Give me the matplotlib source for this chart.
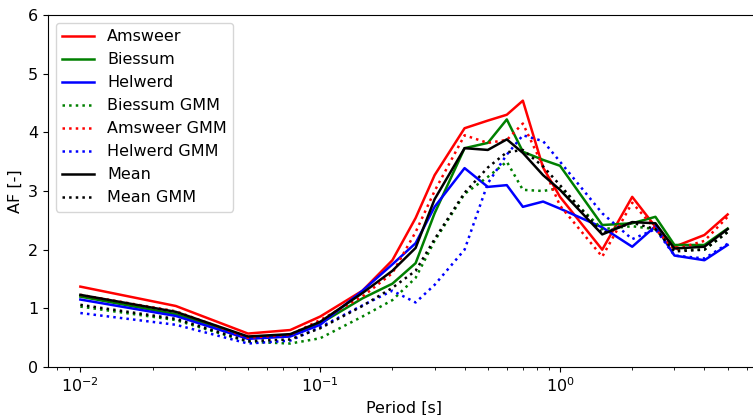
import numpy as np
import matplotlib
matplotlib.use('Agg')
import matplotlib.pyplot as plt

# Periodos espectrales [s]
periods = [0.01, 0.025, 0.05, 0.075, 0.1, 0.15, 0.2, 0.25, 0.3, 0.4, 0.5,
           0.6, 0.7, 0.85, 1.0, 1.5, 2.0, 2.5, 3.0, 4.0, 5.0]

# Factores de amplificacion medidos
amsweer = [1.37, 1.04, 0.57, 0.63, 0.86, 1.30, 1.82, 2.54, 3.27, 4.07, 4.20,
           4.30, 4.54, 3.40, 2.90, 2.00, 2.90, 2.39, 2.05, 2.25, 2.60]
biessum = [1.20, 0.90, 0.50, 0.53, 0.74, 1.17, 1.42, 1.77, 2.62, 3.73, 3.82,
           4.22, 3.67, 3.53, 3.43, 2.42, 2.45, 2.56, 2.08, 2.08, 2.36]
helwerd = [1.15, 0.87, 0.48, 0.52, 0.72, 1.30, 1.75, 2.11, 2.73, 3.39, 3.07,
           3.10, 2.73, 2.82, 2.70, 2.38, 2.05, 2.40, 1.90, 1.82, 2.08]
mean = [1.23, 0.94, 0.52, 0.56, 0.77, 1.26, 1.64, 2.03, 2.86, 3.73, 3.70,
        3.88, 3.65, 3.27, 3.02, 2.26, 2.47, 2.45, 2.02, 2.05, 2.35]

# Factores de amplificacion GMM
biessum_gmm = [1.03, 0.80, 0.43, 0.40, 0.49, 0.86, 1.14, 1.52, 2.15, 2.95, 3.24,
               3.50, 3.02, 3.00, 3.05, 2.35, 2.40, 2.35, 2.00, 2.00, 2.30]
amsweer_gmm = [1.23, 0.95, 0.50, 0.55, 0.80, 1.20, 1.60, 2.30, 3.00, 3.95, 3.82,
               3.87, 4.15, 3.42, 2.75, 1.88, 2.80, 2.35, 2.00, 2.15, 2.56]
helwerd_gmm = [0.92, 0.72, 0.40, 0.45, 0.68, 1.05, 1.30, 1.10, 1.40, 2.00, 3.13,
               3.62, 3.95, 3.85, 3.50, 2.62, 2.18, 2.35, 1.90, 1.85, 2.10]
mean_gmm = [1.06, 0.82, 0.44, 0.47, 0.66, 1.04, 1.35, 1.64, 2.18, 2.97, 3.40,
            3.66, 3.70, 3.42, 3.10, 2.28, 2.46, 2.35, 1.97, 2.00, 2.30]

plt.rcParams['font.size'] = 11.5
lw = 1.8

fig = plt.figure(figsize=(7.53, 4.15), dpi=100)
ax = fig.add_axes([48 / 753, 48 / 415, 712 / 753, 352 / 415])

ax.plot(periods, amsweer, color='r', lw=lw, label='Amsweer')
ax.plot(periods, biessum, color='g', lw=lw, label='Biessum')
ax.plot(periods, helwerd, color='b', lw=lw, label='Helwerd')
ax.plot(periods, biessum_gmm, color='g', lw=lw, ls=':', label='Biessum GMM')
ax.plot(periods, amsweer_gmm, color='r', lw=lw, ls=':', label='Amsweer GMM')
ax.plot(periods, helwerd_gmm, color='b', lw=lw, ls=':', label='Helwerd GMM')
ax.plot(periods, mean, color='k', lw=lw, label='Mean')
ax.plot(periods, mean_gmm, color='k', lw=lw, ls=':', label='Mean GMM')

ax.set_xscale('log')
ax.set_ylim(0, 6)
ax.set_xlabel('Period [s]')
ax.set_ylabel('AF [-]')
ax.legend(loc='upper left')

fig.savefig('out.png', dpi=100)
